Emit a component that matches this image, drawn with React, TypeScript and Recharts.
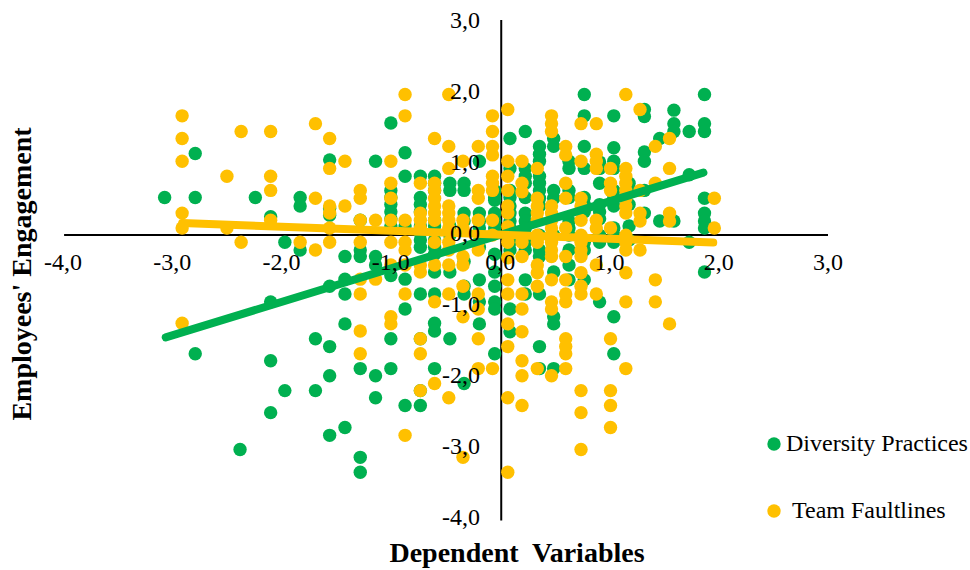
import { ScatterChart, Scatter, XAxis, YAxis, ReferenceLine } from "recharts";

const GREEN = "#00B050";
const YELLOW = "#FFC000";
const FONT = "'Liberation Serif', serif";

const xTicks = [-4, -3, -2, -1, 0, 1, 2, 3];
const yTicks = [-4, -3, -2, -1, 0, 1, 2, 3];

// each row: x value, then the y values stacked on that x
const diversityColumns: [number, number[]][] = [
  [-3.07, [0.5]],
  [-2.79, [1.12, 0.5, -1.7]],
  [-2.38, [-3.05]],
  [-2.24, [0.5]],
  [-2.1, [0.23, -0.97, -1.8, -2.53]],
  [-1.97, [-0.13, -2.22]],
  [-1.83, [0.5, 0.38, -0.24]],
  [-1.69, [-1.49, -2.22]],
  [-1.56, [1.03, 0.35, 0.25, -0.75, -1.6, -2.01, -2.85]],
  [-1.42, [-0.33, -0.65, -0.86, -1.28, -2.74]],
  [-1.28, [0.18, -0.24, -0.33, -1.91, -3.16, -3.37]],
  [-1.14, [1.01, -0.33, -0.45, -2.01, -2.32]],
  [-1.0, [1.55, 0.6, 0.5, 0.4, 0.3, 0.2, 0.1, -0.6, -1.49, -1.91]],
  [-0.87, [1.13, 0.8, 0.1, -0.65, -1.07, -2.43]],
  [-0.73, [0.8, 0.5, 0.4, 0.3, 0.1, 0, -0.1, -0.2, -0.86, -1.49, -2.22, -2.43]],
  [-0.6, [0.8, 0.7, 0.6, 0.18, 0.1, -0.1, -0.2, -0.3, -0.55, -0.86, -1.27, -1.38, -1.91]],
  [-0.46, [0.7, 0.6, 0.1, -0.03, -0.55, -1.49]],
  [-0.33, [0.7, 0.6, 0.28, 0.17, -0.4, -0.75, -0.86, -2.12]],
  [-0.19, [1.01, 0.28, 0.17, 0.07, -0.2, -0.66, -0.97, -1.28]],
  [-0.05, [0.6, 0.5, 0.46, 0.28, 0.17, 0.07, -0.3, -0.55, -0.75, -0.97, -1.07, -1.7]],
  [0.09, [1.33, 0.91, 0.6, 0.5, 0.38, 0.28, 0.17, 0.07, -0.13, -0.24, -1.07, -1.39]],
  [0.23, [1.43, 0.91, 0.8, 0.7, 0.5, 0.28, 0.17, 0.07, -0.03, -0.13, -0.24, -0.66, -0.86]],
  [0.36, [1.22, 1.11, 1.01, 0.8, 0.7, 0.6, 0.49, 0.38, -0.03, -0.24, -0.33, -0.86, -1.6, -1.91]],
  [0.49, [1.33, 1.22, 0.6, 0.49, -0.03, -0.55, -1.18, -1.28, -1.91]],
  [0.63, [1.01, 0.91, 0.6, 0.5, 0.17, 0.07, -0.03, -0.24, -0.45, -0.66]],
  [0.77, [1.95, 1.65, 1.22, 0.91, 0.5, 0.4, 0.3, -0.13, -0.24, -0.66]],
  [0.91, [1.0, 0.91, 0.7, 0.4, 0.3, 0.2, -0.03, -0.13, -0.97]],
  [1.04, [1.65, 1.2, 1.01, 0.91, 0.6, 0.49, 0.38, 0.07, -0.03, -0.13, -1.18, -1.7]],
  [1.18, [0.7, 0.6, 0.4, 0.1, -0.1]],
  [1.32, [1.74, 1.64, 1.14, 1.01, 0.6, 0.28]],
  [1.46, [1.33, 0.17]],
  [1.59, [1.73, 1.54, 1.43, 0.17]],
  [1.73, [1.43, 0.82, -0.13]],
  [1.87, [1.95, 1.54, 1.43, 0.49, 0.28, 0.17, 0.07, -0.55]],
];

const faultlineColumns: [number, number[]][] = [
  [-2.91, [1.65, 1.33, 1.01, 0.28, 0.07, -1.27]],
  [-2.5, [0.8, 0.07]],
  [-2.37, [1.43, -0.13]],
  [-2.1, [1.43, 0.8, 0.6, 0.18]],
  [-1.83, [-0.13]],
  [-1.69, [1.54, 0.49, -0.24]],
  [-1.56, [1.33, 0.91, 0.38, 0.28, 0.07, -0.13]],
  [-1.42, [1.01, 0.38]],
  [-1.28, [0.6, 0.49, 0.18, -0.13, -0.65, -0.86, -1.38, -1.7]],
  [-1.14, [0.18, -0.65]],
  [-1.0, [1.01, 0.7, 0.49, 0.18, -0.13, -0.45, -1.18, -1.28]],
  [-0.87, [1.95, 1.65, 0.18, -0.13, -0.24, -0.45, -0.86, -2.85]],
  [-0.73, [0.7, 0.28, 0.18, 0.07, -0.45, -0.55, -1.49, -1.7, -2.22]],
  [-0.6, [1.33, 0.7, 0.6, 0.49, 0.38, 0.28, 0.18, -0.13, -0.45, -0.97, -2.12]],
  [-0.47, [1.95, 1.22, 0.91, 0.38, 0.28, 0.18, 0.07, -0.13, -0.24, -0.45, -0.86, -2.32]],
  [-0.34, [1.01, 0.18, 0.07, -0.33, -0.45, -0.75, -1.18, -3.16]],
  [-0.2, [1.22, 0.6, 0.49, 0.18, -0.13, -0.24, -0.86, -1.07, -1.49, -1.91]],
  [-0.07, [1.65, 1.43, 1.22, 1.1, 0.8, 0.7, 0.6, 0.18, -0.03, -1.91]],
  [0.07, [1.74, 1.01, 0.8, 0.6, 0.38, 0.28, 0.09, -0.13, -0.35, -0.66, -0.86, -1.28, -1.6, -2.32, -3.37]],
  [0.2, [1.01, 0.7, 0.58, -0.13, -0.33, -0.86, -1.07, -1.39, -1.8, -2.01, -2.43]],
  [0.34, [0.91, 0.49, 0.38, 0.28, 0.18, -0.03, -0.13, -0.45, -0.56, -0.75, -1.91]],
  [0.47, [1.65, 1.54, 1.43, 0.38, 0.28, 0.18, 0.07, -0.03, -0.13, -0.24, -0.33, -0.66, -0.97, -1.07, -2.01]],
  [0.6, [1.22, 1.1, 0.7, 0.49, 0.07, -0.33, -0.66, -0.86, -0.97, -1.49, -1.6, -1.7, -1.91]],
  [0.74, [1.54, 1.01, 0.49, 0.38, 0.18, -0.03, -0.13, -0.24, -0.33, -0.56, -0.75, -0.86, -2.22, -2.53, -3.05]],
  [0.88, [1.54, 1.11, 1.01, 0.91, 0.18, 0.07, -0.45, -0.86]],
  [1.01, [0.91, 0.7, 0.6, 0.07, -1.49, -2.22, -2.43, -2.74]],
  [1.15, [1.95, 0.91, 0.8, 0.7, 0.6, 0.49, 0.38, 0.28, -0.03, -0.13, -0.24, -0.56, -0.97, -1.91]],
  [1.28, [1.74, 0.6, 0.28, 0.17, -0.24]],
  [1.42, [1.22, 0.7, -0.66, -0.97]],
  [1.55, [1.33, 0.91, 0.28, 0.17, -1.28]],
  [1.96, [0.49, 0.07]],
];

// trend line ends
const diversityTrend = [
  { x: -3.06, y: -1.47 },
  { x: 1.86, y: 0.85 },
];
const faultlineTrend = [
  { x: -2.91, y: 0.14 },
  { x: 1.95, y: -0.135 },
];

// the drawn axis lines sit a hair off the tick labels in the original
const xAxisLine = [
  { x: -3.99, y: -0.028 },
  { x: 3, y: -0.028 },
];
const yAxisLine = [
  { x: 0.01, y: 3 },
  { x: 0.01, y: -4.05 },
];

const toPoints = (columns: [number, number[]][]) =>
  columns.flatMap(([x, ys]) => ys.map((y) => ({ x, y })));

const fmt = (v: number) => v.toFixed(1).replace(".", ",");

const dot = (fill: string) => (props: any) =>
  <circle cx={props.cx} cy={props.cy} r={6.7} fill={fill} />;

const noDot = () => <g />;

// the x labels sit just under the zero line, not at the bottom of the plot
const XTick = ({ x, payload }: any) => (
  <text x={x} y={270} textAnchor="middle" fontFamily={FONT} fontSize={24} fill="#000">
    {fmt(payload.value)}
  </text>
);

// same for y: right-aligned against the vertical zero line
const YTick = ({ y, payload }: any) => (
  <text x={480} y={y + 8} textAnchor="end" fontFamily={FONT} fontSize={24} fill="#000">
    {fmt(payload.value)}
  </text>
);

export default function App() {
  return (
    <div style={{ position: "absolute", left: 0, top: 0, width: 970, height: 570, background: "#fff" }}>
      <ScatterChart width={970} height={570} margin={{ top: 20, right: 142, bottom: 52, left: 62 }}>
        <ReferenceLine segment={yAxisLine} stroke="#000" strokeWidth={2} ifOverflow="visible" />
        <ReferenceLine segment={xAxisLine} stroke="#000" strokeWidth={2} ifOverflow="visible" />
        <Scatter name="Diversity Practices" data={toPoints(diversityColumns)} shape={dot(GREEN)} isAnimationActive={false} />
        <Scatter name="Team Faultlines" data={toPoints(faultlineColumns)} shape={dot(YELLOW)} isAnimationActive={false} />
        <Scatter
          data={diversityTrend}
          shape={noDot}
          line={{ stroke: GREEN, strokeWidth: 8, strokeLinecap: "round" }}
          isAnimationActive={false}
        />
        <Scatter
          data={faultlineTrend}
          shape={noDot}
          line={{ stroke: YELLOW, strokeWidth: 8, strokeLinecap: "round" }}
          isAnimationActive={false}
        />
        <XAxis
          type="number"
          dataKey="x"
          domain={[-4, 3]}
          ticks={xTicks}
          height={1}
          axisLine={false}
          tickLine={false}
          tick={<XTick />}
          interval={0}
        />
        <YAxis
          type="number"
          dataKey="y"
          domain={[-4, 3]}
          ticks={yTicks}
          width={1}
          axisLine={false}
          tickLine={false}
          tick={<YTick />}
          interval={0}
        />
        <text x={517} y={562} textAnchor="middle" fontFamily={FONT} fontSize={28} fontWeight="bold" fill="#000" xmlSpace="preserve">
          Dependent  Variables
        </text>
        <text
          transform="translate(31 274) rotate(-90)"
          textAnchor="middle"
          fontFamily={FONT}
          fontSize={28}
          fontWeight="bold"
          fill="#000"
        >
          Employees' Engagement
        </text>
        <circle cx={774} cy={444} r={6.7} fill={GREEN} />
        <text x={786} y={451} fontFamily={FONT} fontSize={24} fill="#000">Diversity Practices</text>
        <circle cx={774} cy={511} r={6.7} fill={YELLOW} />
        <text x={792} y={518} fontFamily={FONT} fontSize={24} fill="#000">Team Faultlines</text>
      </ScatterChart>
    </div>
  );
}
